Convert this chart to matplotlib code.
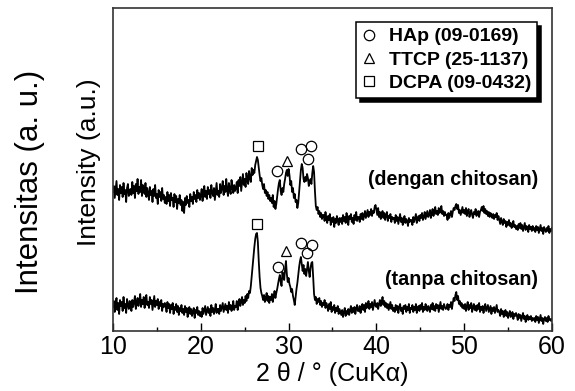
import matplotlib
matplotlib.use("Agg")
import matplotlib.pyplot as plt
from matplotlib.lines import Line2D
import numpy as np

plt.rcParams['font.family'] = ['Liberation Sans', 'DejaVu Sans']

# 2theta grid, 10.0 .. 60.0 in 0.1 deg steps
two_theta = np.round(np.arange(100, 601) / 10.0, 1)

# (dengan chitosan) – upper pattern (arbitrary units)
dengan = [
    139,145,133,141,150,136,142,131,146,138,144,134,148,137,141,129,143,147,135,140,
    142,136,149,138,145,133,147,140,152,137,144,139,151,135,146,141,137,148,134,143,
    138,131,144,136,140,129,142,135,146,133,137,127,141,134,139,130,143,132,136,128,
    134,127,139,130,136,125,138,131,133,124,137,129,135,122,132,128,136,126,131,120,
    129,118,133,126,135,128,131,124,137,130,134,127,139,132,136,129,141,133,138,131,
    136,142,130,139,145,134,140,132,144,137,141,133,146,138,135,143,131,140,148,136,
    140,134,147,138,143,150,136,145,139,152,141,135,148,142,137,151,144,138,146,140,
    143,149,138,151,145,154,140,148,157,146,152,144,158,150,147,160,153,149,163,156,
    161,158,166,170,174,171,163,156,150,153,146,142,147,138,141,135,139,132,136,130,
    133,128,136,124,130,122,127,135,142,148,151,140,136,143,139,147,152,158,161,155,
    162,156,146,150,139,143,133,137,129,131,123,128,139,150,161,167,163,152,149,154,
    150,157,153,145,149,152,147,158,165,159,140,125,121,124,117,120,114,118,112,116,
    116,110,119,113,108,115,111,117,106,113,109,114,104,112,108,115,110,106,113,109,
    113,107,116,110,114,108,118,111,106,115,112,117,109,113,107,116,111,119,110,114,
    114,109,117,112,118,111,115,120,113,117,121,114,119,116,122,115,120,118,124,126,
    121,116,123,114,119,112,117,120,113,118,111,116,119,110,115,113,117,109,114,112,
    113,108,116,110,114,107,112,117,109,113,106,111,115,108,112,110,105,113,109,111,
    111,106,114,109,113,117,108,112,115,110,116,113,118,111,114,119,112,116,120,114,
    116,121,113,118,122,115,119,124,117,120,116,123,118,121,125,117,120,115,119,116,
    116,111,118,113,117,120,114,119,123,121,125,127,122,126,118,121,116,120,124,118,
    121,117,123,115,119,122,114,118,121,116,113,119,117,122,115,118,120,114,119,121,
    124,120,125,118,122,117,120,115,119,114,118,116,113,117,112,116,114,118,111,115,
    111,107,113,109,106,112,108,110,104,109,106,111,105,108,103,107,110,104,106,102,
    105,101,107,103,108,102,106,100,104,108,101,105,103,99,106,102,104,100,105,101,
    103,99,105,101,104,98,102,106,100,103,97,104,101,99,103,100,105,98,102,100,
    103,
]

# (tanpa chitosan) – lower pattern
tanpa = [
    24,30,19,27,33,21,28,17,31,25,29,20,34,23,27,18,32,26,22,30,
    26,20,31,24,29,35,22,28,33,25,30,37,24,31,27,34,23,32,36,26,
    29,23,34,27,31,21,28,35,24,30,26,32,22,29,25,31,20,27,24,28,
    25,19,29,23,27,18,26,22,28,17,24,21,27,19,25,16,23,20,26,18,
    22,16,25,19,23,14,21,24,17,22,15,20,23,13,21,18,24,16,20,15,
    19,14,23,17,21,25,16,20,24,18,22,15,26,19,23,17,21,27,18,22,
    22,17,26,20,24,28,19,23,27,21,25,18,29,22,26,20,24,30,21,25,
    24,30,21,27,32,25,29,34,26,31,28,35,30,37,33,40,38,45,55,66,
    76,84,92,97,98,89,70,54,43,38,35,31,36,29,33,38,30,35,28,34,
    31,37,29,35,40,33,38,42,47,52,56,49,45,59,54,51,62,70,57,49,
    53,47,44,39,42,35,31,26,34,42,48,56,64,70,74,67,60,66,57,62,
    55,62,69,60,54,63,68,69,54,37,31,34,27,32,29,33,26,30,24,28,
    26,31,23,28,25,20,27,22,29,19,24,21,26,18,23,20,25,17,22,19,
    16,21,14,19,23,15,20,17,22,16,21,25,18,23,19,24,17,22,26,20,
    20,25,18,24,27,21,26,19,28,23,25,30,22,27,24,29,21,26,31,25,
    24,28,22,27,31,25,29,34,26,30,24,28,23,27,21,25,29,22,26,20,
    23,19,26,21,25,18,24,27,20,23,17,25,22,26,19,24,21,27,18,23,
    22,26,19,24,21,27,18,23,25,20,26,22,28,19,24,21,27,23,20,25,
    23,19,26,22,28,21,25,20,27,23,26,19,24,29,22,25,21,27,24,22,
    23,27,21,26,24,29,22,28,33,30,36,39,31,35,27,30,25,28,23,26,
    22,27,20,25,29,21,26,23,28,19,24,27,21,25,20,26,22,28,19,24,
    21,25,18,24,27,20,23,26,19,22,25,17,23,20,24,18,22,26,19,21,
    19,15,22,17,20,14,18,21,15,19,13,17,20,14,16,19,12,17,15,18,
    15,11,17,13,16,10,14,18,12,15,9,13,16,11,14,12,15,10,13,11,
    13,9,15,11,14,8,12,16,10,13,7,12,14,10,13,9,15,11,12,10,
    12,
]

# phase markers (2theta, height)
hap_top_x = [28.7, 31.4, 32.6, 32.2]
hap_top_y = [160, 182, 185, 172]
ttcp_top_x = [29.8]
ttcp_top_y = [170]
dcpa_top_x = [26.5]
dcpa_top_y = [185]

hap_bot_x = [28.8, 31.4, 32.7, 32.1]
hap_bot_y = [64, 88, 86, 78]
ttcp_bot_x = [29.7]
ttcp_bot_y = [80]
dcpa_bot_x = [26.4]
dcpa_bot_y = [107]

legend_labels = ['HAp (09-0169)', 'TTCP (25-1137)', 'DCPA (09-0432)']
sample_labels = ['(dengan chitosan)', '(tanpa chitosan)']

fig = plt.figure(figsize=(5.75, 3.91), dpi=100)
ax = fig.add_axes([0.1965, 0.1535, 0.7635, 0.826])

ax.plot(two_theta, dengan, color='black', lw=1.3)
ax.plot(two_theta, tanpa, color='black', lw=1.3)

mk = dict(linestyle='none', markerfacecolor='none', markeredgecolor='black',
          markeredgewidth=0.9, markersize=7.5)
for xs, ys in [(hap_top_x, hap_top_y), (hap_bot_x, hap_bot_y)]:
    ax.plot(xs, ys, marker='o', **mk)
for xs, ys in [(ttcp_top_x, ttcp_top_y), (ttcp_bot_x, ttcp_bot_y)]:
    ax.plot(xs, ys, marker='^', **mk)
for xs, ys in [(dcpa_top_x, dcpa_top_y), (dcpa_bot_x, dcpa_bot_y)]:
    ax.plot(xs, ys, marker='s', **mk)

ax.text(58.4, 151, sample_labels[0], fontsize=14.2, fontweight='bold',
        ha='right', va='center')
ax.text(58.4, 51, sample_labels[1], fontsize=14.2, fontweight='bold',
        ha='right', va='center')

handles = [Line2D([], [], marker=m, **mk) for m in ['o', '^', 's']]
leg = ax.legend(handles, legend_labels, loc='upper right',
                bbox_to_anchor=(0.966, 0.957), borderaxespad=0,
                prop={'weight': 'bold', 'size': 14}, frameon=True,
                fancybox=False, edgecolor='black', framealpha=1,
                shadow={'color': 'black', 'alpha': 1, 'ox': 3, 'oy': -3},
                handlelength=0.8, handletextpad=0.6, labelspacing=0.3,
                borderpad=0.3)
leg.get_frame().set_linewidth(1.1)

ax.set_xlim(10, 60)
ax.set_ylim(0, 323)
ax.set_xticks([10, 20, 30, 40, 50, 60])
ax.set_xticks([15, 25, 35, 45, 55], minor=True)
ax.tick_params(axis='x', which='major', direction='in', length=6, width=1,
               labelsize=18, pad=3)
ax.tick_params(axis='x', which='minor', direction='in', length=3, width=1)
ax.set_yticks([])
for s in ax.spines.values():
    s.set_linewidth(1.2)
    s.set_color('#333333')

ax.set_xlabel('2 θ / ° (CuKα)', fontsize=18, labelpad=2)

fig.text(30 / 575, 1 - 182 / 391, 'Intensitas (a. u.)', rotation=90,
         fontsize=22.5, ha='center', va='center')
fig.text(89 / 575, 1 - 162 / 391, 'Intensity (a.u.)', rotation=90,
         fontsize=19, ha='center', va='center')

fig.savefig('out.png', dpi=100)
